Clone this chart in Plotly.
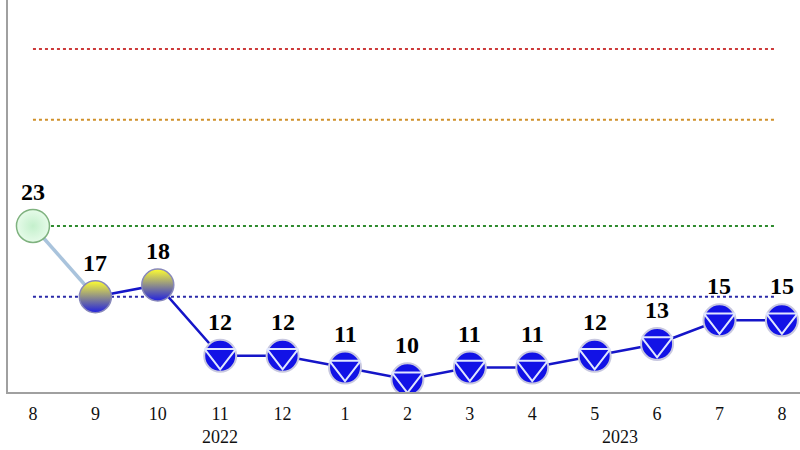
import plotly.graph_objects as go

months = ["8", "9", "10", "11", "12", "1", "2", "3", "4", "5", "6", "7", "8"]
values = [23, 17, 18, 12, 12, 11, 10, 11, 11, 12, 13, 15, 15]
years = ["2022", "2023"]
year_pos = [3, 9.4]
thresholds = [38, 32, 23, 17]
threshold_colors = ["#cc3a3a", "#d0902a", "#2e8b2e", "#2a2aa8"]

x = list(range(len(months)))
fig = go.Figure()

# first segment (light)
fig.add_trace(go.Scatter(x=x[:2], y=values[:2], mode="lines",
                         line=dict(color="#a9c3dc", width=3.5), hoverinfo="skip"))
# rest of line
fig.add_trace(go.Scatter(x=x[1:], y=values[1:], mode="lines",
                         line=dict(color="#1515c8", width=2.5), hoverinfo="skip"))

# green marker
fig.add_trace(go.Scatter(x=x[:1], y=values[:1], mode="markers",
                         marker=dict(size=33, color="#e6fbe9",
                                     gradient=dict(type="radial", color="#c4f0cc"),
                                     line=dict(color="#7fb27f", width=1.5))))
# yellow/blue markers
fig.add_trace(go.Scatter(x=x[1:3], y=values[1:3], mode="markers",
                         marker=dict(size=32, color="#ffff30",
                                     gradient=dict(type="vertical", color="#2020e0"),
                                     line=dict(color="#8888bb", width=1.5))))
# blue markers
fig.add_trace(go.Scatter(x=x[3:], y=values[3:], mode="markers",
                         marker=dict(size=32, color="#1212e6",
                                     line=dict(color="#c8c8e0", width=2))))
fig.add_trace(go.Scatter(x=x[3:], y=values[3:], mode="markers",
                         marker=dict(size=27, symbol="triangle-down-open",
                                     color="#e0e6ff", line=dict(color="#e0e6ff", width=2))))

shapes = []
for t, c in zip(thresholds, threshold_colors):
    shapes.append(dict(type="line", xref="x", yref="y", x0=0, x1=len(months) - 1.1,
                       y0=t, y1=t, line=dict(color=c, width=2, dash="dot"), layer="below"))

annotations = []
for xi, v in zip(x, values):
    annotations.append(dict(x=xi, y=v, text="<b>" + str(v) + "</b>", showarrow=False, yshift=34,
                            font=dict(family="Liberation Serif", size=24, color="black"),
                            xref="x", yref="y"))
for yr, p in zip(years, year_pos):
    annotations.append(dict(x=p, y=0, xref="x", yref="paper", text=yr, showarrow=False,
                            yanchor="middle", yshift=-45,
                            font=dict(family="Liberation Serif", size=18, color="#111")))

fig.update_layout(
    width=800, height=450, margin=dict(l=8, r=0, t=0, b=58),
    plot_bgcolor="white", paper_bgcolor="white", showlegend=False,
    shapes=shapes, annotations=annotations,
    xaxis=dict(range=[-0.4, 12.29], tickvals=x, ticktext=months, showgrid=False,
               zeroline=False, showline=True, linecolor="#a0a0a0", linewidth=2,
               ticks="", ticklabelstandoff=4,
               tickfont=dict(family="Liberation Serif", size=18, color="#111")),
    yaxis=dict(range=[8.93, 42.15], showgrid=False, zeroline=False, showticklabels=False,
               showline=True, linecolor="#a0a0a0", linewidth=2, ticks=""),
)
fig.write_html("out.html")
